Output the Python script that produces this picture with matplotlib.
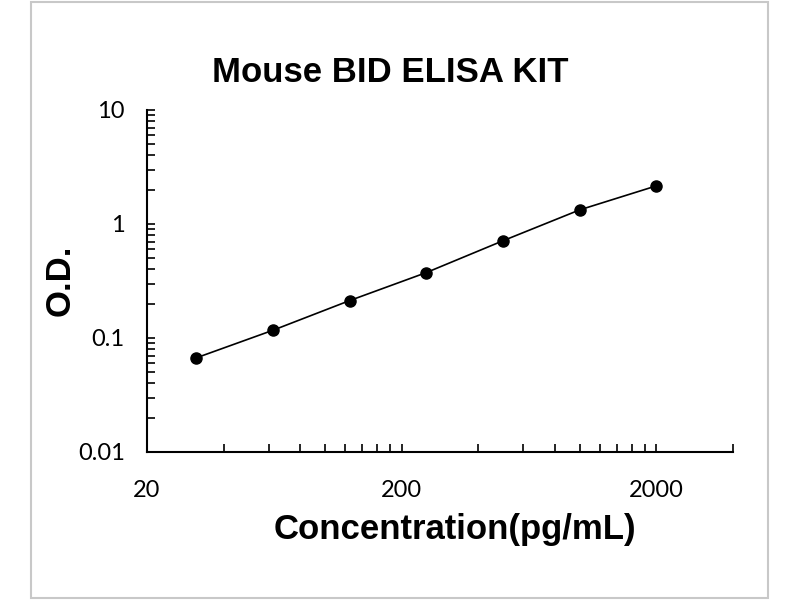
import numpy as np
import matplotlib
matplotlib.use("Agg")
import matplotlib.pyplot as plt
from matplotlib.patches import Rectangle
from matplotlib.ticker import FixedLocator, NullFormatter, FixedFormatter

# standard curve values
conc = [31.25, 62.5, 125, 250, 500, 1000, 2000]
od = [0.067, 0.117, 0.213, 0.375, 0.713, 1.33, 2.16]

x_major = [20, 200, 2000]
x_major_labels = ["20", "200", "2000"]
x_minor = [40, 60, 80, 100, 120, 140, 160, 180,
           400, 600, 800, 1000, 1200, 1400, 1600, 1800, 4000]
y_major = [0.01, 0.1, 1, 10]
y_major_labels = ["0.01", "0.1", "1", "10"]

fig = plt.figure(figsize=(8, 6), dpi=100)
W, H = 800, 600

# light frame around the whole picture
fig.patches.append(Rectangle((31 / W, 2 / H), 737 / W, 596 / H,
                             transform=fig.transFigure, fill=False,
                             edgecolor="#c8c8c8", linewidth=1.5))

ax = fig.add_axes([147 / W, 1 - 452 / H, 586 / W, 342 / H])
ax.plot(conc, od, color="black", linewidth=1.2, marker="o", markersize=8)

ax.set_xscale("log")
ax.set_yscale("log")
ax.set_xlim(20, 4000)
ax.set_ylim(0.01, 10)

ax.xaxis.set_major_locator(FixedLocator(x_major))
ax.xaxis.set_major_formatter(FixedFormatter(x_major_labels))
ax.xaxis.set_minor_locator(FixedLocator(x_minor))
ax.xaxis.set_minor_formatter(NullFormatter())
ax.yaxis.set_major_locator(FixedLocator(y_major))
ax.yaxis.set_major_formatter(FixedFormatter(y_major_labels))
ax.yaxis.set_minor_locator(FixedLocator(
    [m * d for d in [0.01, 0.1, 1] for m in range(2, 10)]))
ax.yaxis.set_minor_formatter(NullFormatter())

for side in ["top", "right"]:
    ax.spines[side].set_visible(False)
for side in ["left", "bottom"]:
    ax.spines[side].set_linewidth(1.5)

ax.tick_params(axis="both", which="both", direction="in", width=1.2, length=6)
ax.tick_params(axis="x", which="major", pad=20, labelsize=17)
ax.tick_params(axis="y", which="major", pad=16, labelsize=17)
for lab in ax.get_xticklabels() + ax.get_yticklabels():
    lab.set_family("Lato")

fig.text(390 / W, 1 - 72 / H, "Mouse BID ELISA KIT", ha="center", va="center",
         fontsize=25, fontweight="bold", family="Liberation Sans")
fig.text(455 / W, 1 - 530 / H, "Concentration(pg/mL)", ha="center", va="center",
         fontsize=25, fontweight="bold", family="Liberation Sans")
fig.text(60 / W, 1 - 280 / H, "O.D.", ha="center", va="center", rotation=90,
         fontsize=25, fontweight="bold", family="Liberation Sans")

fig.savefig("out.png", dpi=100)
